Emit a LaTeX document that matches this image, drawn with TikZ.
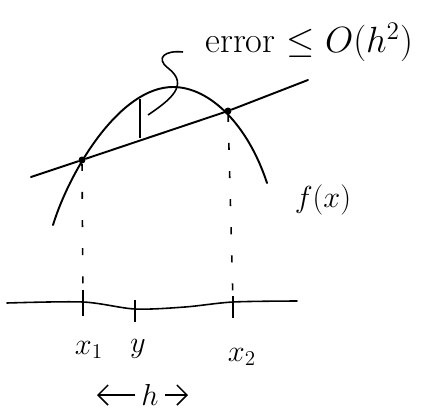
\documentclass[tikz,border=0pt]{standalone}
\usepackage{tikz}
\usetikzlibrary{arrows.meta,positioning,calc}

\begin{document}
\begin{tikzpicture}[
  x=0.02cm, y=-0.02cm,
  font=\LARGE,
  pen/.style={line width=1.1pt, line cap=round, line join=round},
  guide/.style={line width=0.9pt, dash pattern=on 4pt off 12pt},
  dot/.style={circle, fill, inner sep=1.4pt},
  tick/.style={line width=1pt},
  arrow/.style={-{Straight Barb[length=2mm]}, line width=0.9pt}
]
\useasboundingbox (0,0) rectangle (427,413);

% points where the chord meets f
\node[dot] (p1) at (82,160) {};
\node[dot] (p2) at (228,111) {};
\coordinate (a) at (31,177);
\coordinate (b) at (308,80);

% f(x) and the chord
\draw[pen] (53,225) .. controls (70,170) and (120,87) .. (173,87)
  .. controls (210,87) and (248,125) .. (267,183);
\draw[pen] (a) -- (p1) -- (p2) -- (b);
\node (f) at (323,200) {$f(x)$};

% error gap and its label
\coordinate (ctop) at (140,99);
\coordinate (cbot) at (140,138);
\draw[line width=0.9pt] (ctop) -- (cbot);
\node[anchor=west, inner sep=0pt] (err) at (205,42) {\huge error $\leq O(h^2)$};
\coordinate (lead) at (148,115);
\coordinate (tail) at (183,52);
\draw[line width=0.9pt] (lead) .. controls (170,100) and (190,85) .. (168,68)
  .. controls (155,58) and (165,50) .. (tail);

% x axis
\node[inner sep=0pt] (t1) at (83,302) {};
\node[inner sep=0pt] (ty) at (135,309) {};
\node[inner sep=0pt] (t2) at (233,302) {};
\draw[pen, line width=0.9pt] plot[smooth] coordinates {(7,303) (83,302) (135,309) (185,307) (233,302) (297,301)};
\draw[tick] (83,290) -- (83,316);
\draw[tick] (135,300) -- (135,322);
\draw[tick] (233,296) -- (233,318);

% dashed drops
\draw[guide] (p1) -- (t1);
\draw[guide] (p2) -- (t2);

% labels
\node (x1) at (89,350) {$x_1$};
\node (y) at (138,349) {$y$};
\node (x2) at (242,357) {$x_2$};
\node (h) at (150,395) {$h$};
\coordinate (hl) at (97,395);
\coordinate (hr) at (188,395);
\draw[arrow] (h) -- (hl);
\draw[arrow] (h) -- (hr);
\end{tikzpicture}
\end{document}
